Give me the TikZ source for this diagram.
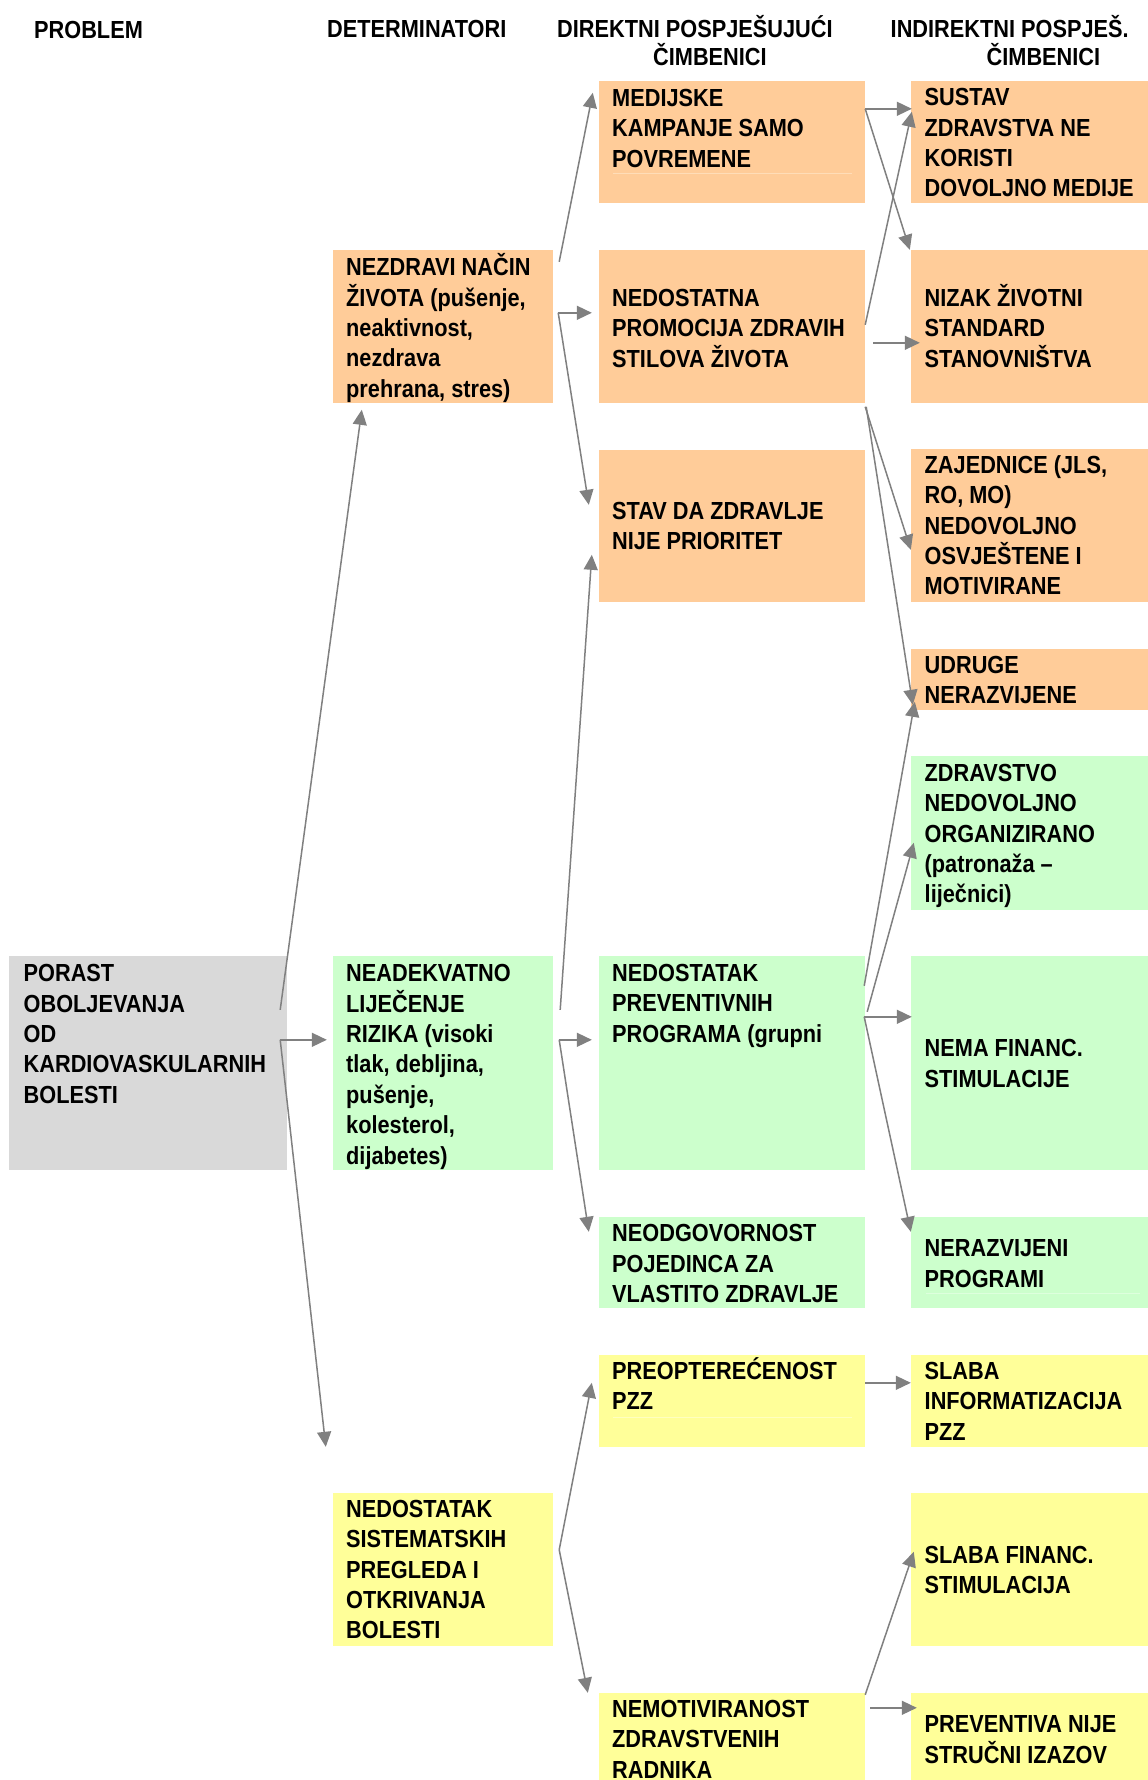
\documentclass[tikz,border=0pt]{standalone}
\usepackage{fontspec}
\setmainfont{Liberation Sans}[FakeStretch=0.88]
\usetikzlibrary{fit,arrows.meta}
\definecolor{corange}{HTML}{FFCC99}
\definecolor{cgreen}{HTML}{CCFFCC}
\definecolor{cyellow}{HTML}{FFFF99}
\definecolor{cgray}{HTML}{D9D9D9}
\definecolor{carrow}{HTML}{808080}
\definecolor{lorange}{HTML}{FFDDB8}
\definecolor{lyellow}{HTML}{FFFFC0}
\definecolor{lgreen}{HTML}{DDFFDD}
\tikzset{
  cbox/.style={inner sep=0pt, draw=none},
  obox/.style={cbox, fill=corange},
  gbox/.style={cbox, fill=cgreen},
  ybox/.style={cbox, fill=cyellow},
  pbox/.style={cbox, fill=cgray},
  txt/.style={anchor=north west, inner sep=0pt, align=left,
    font=\fontsize{24.7pt}{30.4pt}\selectfont\bfseries},
  arr/.style={draw=carrow, line width=1.5pt, -{Triangle[length=15pt,width=14pt]}},
  faint/.style={line width=1pt}
}
\newcommand\btxt[4]{\node[txt] (#1) at (#2,#3-24) {\rule{0pt}{24pt}#4};}
\begin{document}
\begin{tikzpicture}[x=1pt,y=-1pt]
\fill[white] (0,0) rectangle (1148,1780);
\useasboundingbox (0,0) rectangle (1148,1780);

% headers
\btxt{h1}{34}{38}{PROBLEM}
\btxt{h2}{327}{37.5}{DETERMINATORI}
\btxt{h3}{557}{37.5}{DIREKTNI POSPJEŠUJUĆI\\[-2.4pt]\hspace*{96pt}ČIMBENICI}
\btxt{h4}{890.5}{37.5}{INDIREKTNI POSPJEŠ.\\[-2.4pt]\hspace*{96pt}ČIMBENICI}

% boxes
\node[pbox, fit={(9,956) (287,1170)}] (por) {};
\node[obox, fit={(333,250) (553,403)}] (nez) {};
\node[gbox, fit={(333,956) (553,1170)}] (nea) {};
\node[ybox, fit={(333,1493) (553,1646)}] (sis) {};
\node[obox, fit={(599,81) (865,203)}] (med) {};
\node[obox, fit={(599,250) (865,403)}] (pro) {};
\node[obox, fit={(599,450) (865,602)}] (sta) {};
\node[gbox, fit={(599,956) (865,1170)}] (prev) {};
\node[gbox, fit={(599,1217) (865,1308)}] (neo) {};
\node[ybox, fit={(599,1355) (865,1447)}] (pre) {};
\node[ybox, fit={(599,1693) (865,1780)}] (nem) {};
\node[obox, fit={(911,81) (1148,203)}] (sus) {};
\node[obox, fit={(911,250) (1148,403)}] (niz) {};
\node[obox, fit={(911,449) (1148,602)}] (zaj) {};
\node[obox, fit={(911,649) (1148,710)}] (udr) {};
\node[gbox, fit={(911,756) (1148,910)}] (zdr) {};
\node[gbox, fit={(911,956) (1148,1170)}] (nema) {};
\node[gbox, fit={(911,1217) (1148,1308)}] (ner) {};
\node[ybox, fit={(911,1355) (1148,1447)}] (sinf) {};
\node[ybox, fit={(911,1493) (1148,1646)}] (sfin) {};
\node[ybox, fit={(911,1693) (1148,1780)}] (pv) {};

% faint inner lines
\draw[faint, lorange] (613,173) -- (852,173);
\draw[faint, lyellow] (613,1417) -- (852,1417);
\draw[faint, lgreen] (926,1293) -- (1140,1293);

% texts
\btxt{por-t}{23.5}{981.5}{PORAST\\OBOLJEVANJA\\OD\\KARDIOVASKULARNIH\\BOLESTI}
\btxt{nez-t}{346}{275.5}{NEZDRAVI NAČIN\\ŽIVOTA (pušenje,\\neaktivnost,\\nezdrava\\prehrana, stres)}
\btxt{nea-t}{346}{981.5}{NEADEKVATNO\\LIJEČENJE\\RIZIKA (visoki\\tlak, debljina,\\pušenje,\\kolesterol,\\dijabetes)}
\btxt{sis-t}{346}{1517}{NEDOSTATAK\\SISTEMATSKIH\\PREGLEDA I\\OTKRIVANJA\\BOLESTI}
\btxt{med-t}{612}{106}{MEDIJSKE\\KAMPANJE SAMO\\POVREMENE}
\btxt{pro-t}{612}{306}{NEDOSTATNA\\PROMOCIJA ZDRAVIH\\STILOVA ŽIVOTA}
\btxt{sta-t}{612}{519}{STAV DA ZDRAVLJE\\NIJE PRIORITET}
\btxt{prev-t}{612}{981}{NEDOSTATAK\\PREVENTIVNIH\\PROGRAMA (grupni}
\btxt{neo-t}{612}{1241.7}{NEODGOVORNOST\\POJEDINCA ZA\\VLASTITO ZDRAVLJE}
\btxt{pre-t}{612}{1379.3}{PREOPTEREĆENOST\\PZZ}
\btxt{nem-t}{612}{1717.3}{NEMOTIVIRANOST\\ZDRAVSTVENIH\\RADNIKA}
\btxt{sus-t}{924.5}{105.5}{SUSTAV\\ZDRAVSTVA NE\\KORISTI\\DOVOLJNO MEDIJE}
\btxt{niz-t}{924.5}{306}{NIZAK ŽIVOTNI\\STANDARD\\STANOVNIŠTVA}
\btxt{zaj-t}{924.5}{473}{ZAJEDNICE (JLS,\\RO, MO)\\NEDOVOLJNO\\OSVJEŠTENE I\\MOTIVIRANE}
\btxt{udr-t}{924.5}{673}{UDRUGE\\NERAZVIJENE}
\btxt{zdr-t}{924.5}{781}{ZDRAVSTVO\\NEDOVOLJNO\\ORGANIZIRANO\\(patronaža –\\liječnici)}
\btxt{nema-t}{924.5}{1056.7}{NEMA FINANC.\\STIMULACIJE}
\btxt{ner-t}{924.5}{1256.7}{NERAZVIJENI\\PROGRAMI}
\btxt{sinf-t}{924.5}{1379.3}{SLABA\\INFORMATIZACIJA\\PZZ}
\btxt{sfin-t}{924.5}{1563.3}{SLABA FINANC.\\STIMULACIJA}
\btxt{pv-t}{924.5}{1732.7}{PREVENTIVA NIJE\\STRUČNI IZAZOV}

% connectors
\draw[arr] ([shift={(6,12)}]nez.north east) -- ([shift={(-6,12)}]med.north west);
\draw[arr] ([shift={(5,63)}]nez.north east) -- ([shift={(-7,63)}]pro.north west);
\draw[arr] ([shift={(5,63)}]nez.north east) -- ([shift={(-10,55)}]sta.north west);
\draw[arr] ([shift={(-7,54)}]por.north east) -- ([shift={(29,160)}]nez.north west);
\draw[arr] ([shift={(-7,84)}]por.north east) -- ([shift={(-6,84)}]nea.north west);
\draw[arr] ([shift={(-7,84)}]por.north east) -- ([shift={(-7,-46)}]sis.north west);
\draw[arr] ([shift={(6,84)}]nea.north east) -- ([shift={(-7,84)}]prev.north west);
\draw[arr] ([shift={(6,84)}]nea.north east) -- ([shift={(-10,15)}]neo.north west);
\draw[arr] ([shift={(7,54)}]nea.north east) -- ([shift={(-7,105)}]sta.north west);
\draw[arr] ([shift={(0,28)}]med.north east) -- ([shift={(1,28)}]sus.north west);
\draw[arr] ([shift={(0,28)}]med.north east) -- ([shift={(-1,0)}]niz.north west);
\draw[arr] ([shift={(0,75)}]pro.north east) -- ([shift={(1,31)}]sus.north west);
\draw[arr] ([shift={(8,93)}]pro.north east) -- ([shift={(9,93)}]niz.north west);
\draw[arr] ([shift={(0,157)}]pro.north east) -- ([shift={(0,101)}]zaj.north west);
\draw[arr] ([shift={(1,157)}]pro.north east) -- ([shift={(2,56)}]udr.north west);
\draw[arr] ([shift={(-1,30)}]prev.north east) -- ([shift={(4,53)}]udr.north west);
\draw[arr] ([shift={(2,56)}]prev.north east) -- ([shift={(3,87)}]zdr.north west);
\draw[arr] ([shift={(-1,61)}]prev.north east) -- ([shift={(1,61)}]nema.north west);
\draw[arr] ([shift={(-1,61)}]prev.north east) -- ([shift={(0,15)}]ner.north west);
\draw[arr] ([shift={(6,57)}]sis.north east) -- ([shift={(-7,28)}]pre.north west);
\draw[arr] ([shift={(6,57)}]sis.north east) -- ([shift={(-11,0)}]nem.north west);
\draw[arr] ([shift={(0,28)}]pre.north east) -- ([shift={(0,28)}]sinf.north west);
\draw[arr] ([shift={(0,2)}]nem.north east) -- ([shift={(3,59)}]sfin.north west);
\draw[arr] ([shift={(5,15)}]nem.north east) -- ([shift={(6,15)}]pv.north west);
\end{tikzpicture}
\end{document}
